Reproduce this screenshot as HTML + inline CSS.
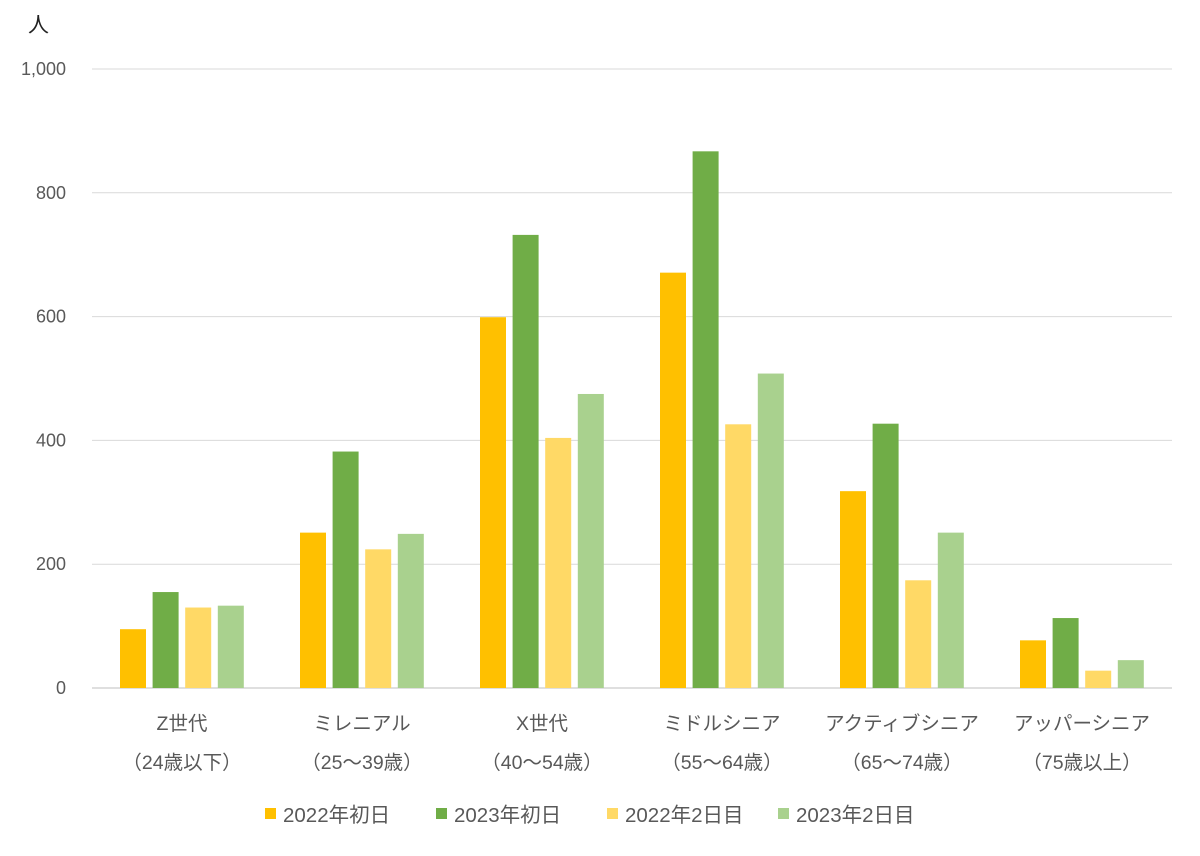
<!DOCTYPE html>
<html><head><meta charset="utf-8"><style>
body{margin:0;background:#fff;}
svg text{font-family:"Liberation Sans","Noto Sans CJK JP",sans-serif;fill:#595959;}
</style></head><body>
<svg id="chart" width="1200" height="851">
<text x="28" y="32" font-size="21" style="fill:#222">人</text>
<g id="grid"></g><g id="bars"></g><g id="xl"></g><g id="legend"></g>
</svg>
<script>
const categories1=["Z世代","ミレニアル","X世代","ミドルシニア","アクティブシニア","アッパーシニア"];
const categories2=["（24歳以下）","（25～39歳）","（40～54歳）","（55～64歳）","（65～74歳）","（75歳以上）"];
const seriesNames=["2022年初日","2023年初日","2022年2日目","2023年2日目"];
const s2022d1=[95,251,599,671,318,77];
const s2023d1=[155,382,732,867,427,113];
const s2022d2=[130,224,404,426,174,28];
const s2023d2=[133,249,475,508,251,45];
const yTicks=[0,200,400,600,800,1000];
const yTickLabels=["0","200","400","600","800","1,000"];
const colors=["#FFC000","#70AD47","#FFD966","#A9D18E"];
const series=[s2022d1,s2023d1,s2022d2,s2023d2];
const NS="http://www.w3.org/2000/svg";
const x0=92,x1=1172,yb=688,yt=69;
const y=v=>yb-(v/1000)*(yb-yt);
const gw=(x1-x0)/categories1.length;
function mk(t,a,p){const e=document.createElementNS(NS,t);for(const k in a)e.setAttribute(k,a[k]);p.appendChild(e);return e;}
const grid=document.getElementById('grid');
yTicks.forEach((v,i)=>{
 const l=mk('line',{x1:x0,x2:x1,y1:y(v),y2:y(v),stroke:i==0?'#bfbfbf':'#d9d9d9','stroke-width':1},grid);
 
 
 const t=mk('text',{x:66,y:y(v)+6,'font-size':18,'text-anchor':'end'},grid);t.textContent=yTickLabels[i];
 
 
});
const bars=document.getElementById('bars');
series.forEach((s,si)=>s.forEach((v,ci)=>{
 const bx=x0+ci*gw+28+si*32.6;
 const r=mk('rect',{x:bx,y:y(v),width:26,height:yb-y(v),fill:colors[si]},bars);
 
 
}));
const xl=document.getElementById('xl');
categories1.forEach((c,i)=>{
 const cx=x0+(i+0.5)*gw;
 const t=mk('text',{x:cx,y:730,'font-size':19.5,'text-anchor':'middle'},xl);t.textContent=c;
 
 
 const t2=mk('text',{x:cx,y:769,'font-size':19.5,'text-anchor':'middle'},xl);t2.textContent=categories2[i];
 
 
});
const lg=document.getElementById('legend');
const lx=[265,436,607,778];
seriesNames.forEach((n,i)=>{
 const g=mk('g',{},lg);
 
 
 mk('rect',{x:lx[i],y:808,width:11,height:11,fill:colors[i]},g);
 const t=mk('text',{x:lx[i]+18,y:822,'font-size':20.5},g);t.textContent=n;
});
</script>
</body></html>
